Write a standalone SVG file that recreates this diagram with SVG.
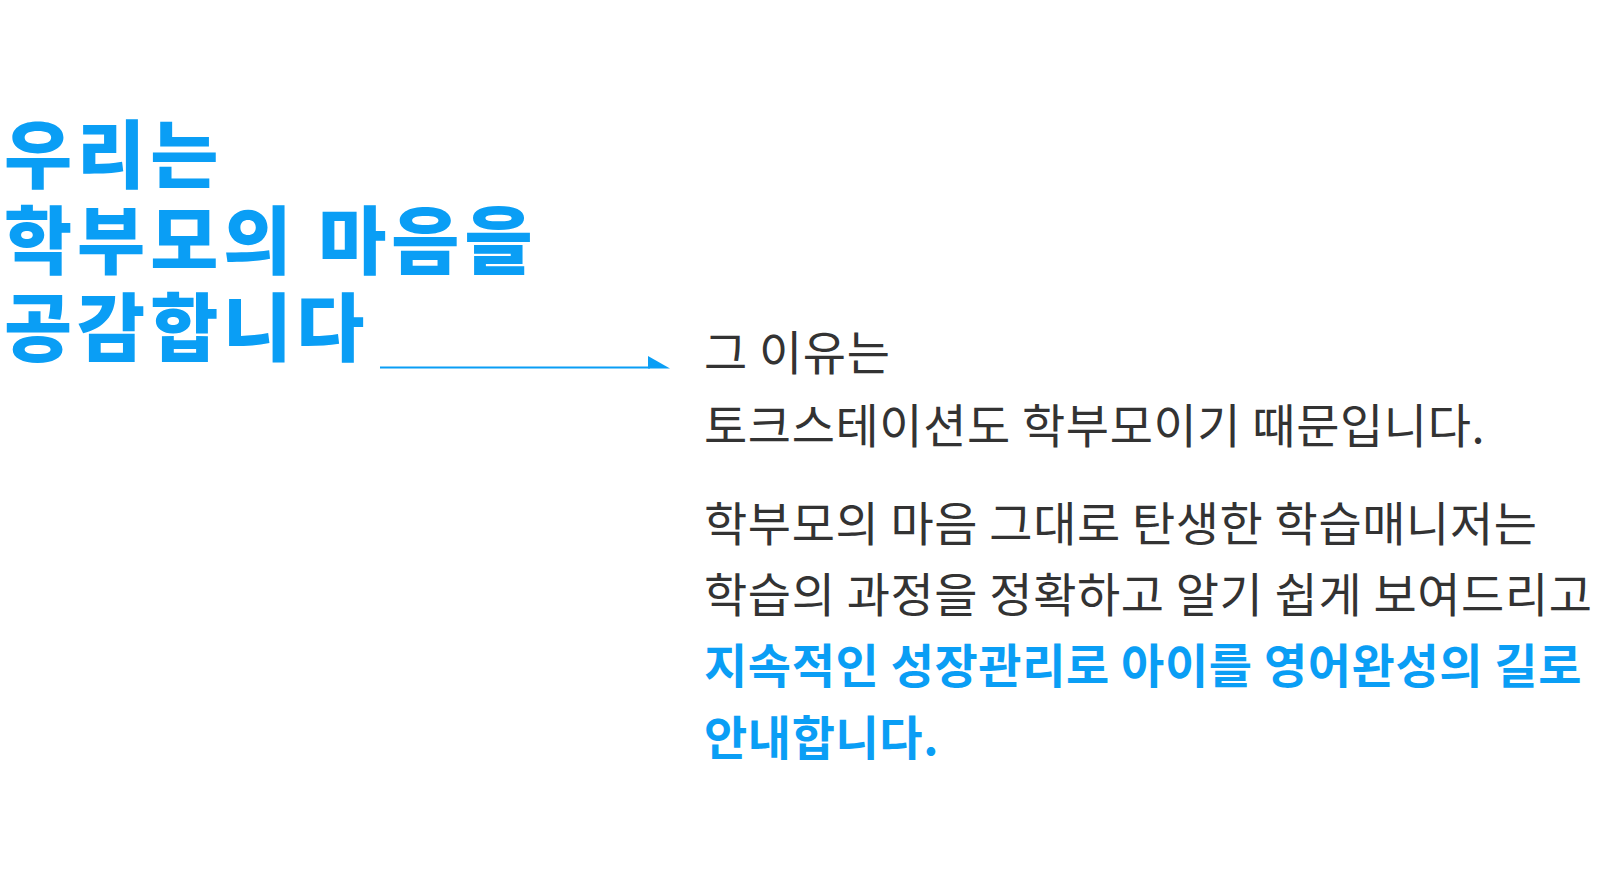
<svg xmlns="http://www.w3.org/2000/svg" width="1600" height="887" viewBox="0 0 1600 887">
<style>
.t{font-family:"Noto Sans CJK KR","Noto Sans",sans-serif;fill:#0a9ef5;font-weight:900;font-size:74px;letter-spacing:5px}
.b{font-family:"Noto Sans CJK KR","Noto Sans",sans-serif;fill:#333;font-weight:400;font-size:47px;letter-spacing:0.6px}
.h{fill:#0a9ef5;font-weight:700}
</style>
<rect width="1600" height="887" fill="#fff"/>
<g id="title">
<text class="t" x="4" y="182">우리는</text>
<text class="t" x="4" y="268">학부모의 마음을</text>
<text class="t" x="4" y="355">공감합니다</text>
</g>
<g id="connectors">
<line x1="380" y1="367.5" x2="650" y2="367.5" stroke="#0a9ef5" stroke-width="2"/>
<polygon points="648,356 670,368.5 648,368.5" fill="#0a9ef5"/>
</g>
<g id="body">
<text class="b" x="704" y="370">그 이유는</text>
<text class="b" x="704" y="443">토크스테이션도 학부모이기 때문입니다.</text>
<text class="b" x="704" y="541">학부모의 마음 그대로 탄생한 학습매니저는</text>
<text class="b" x="704" y="612">학습의 과정을 정확하고 알기 쉽게 보여드리고</text>
<text class="b h" x="704" y="683">지속적인 성장관리로 아이를 영어완성의 길로</text>
<text class="b h" x="704" y="755">안내합니다.</text>
</g>
</svg>
